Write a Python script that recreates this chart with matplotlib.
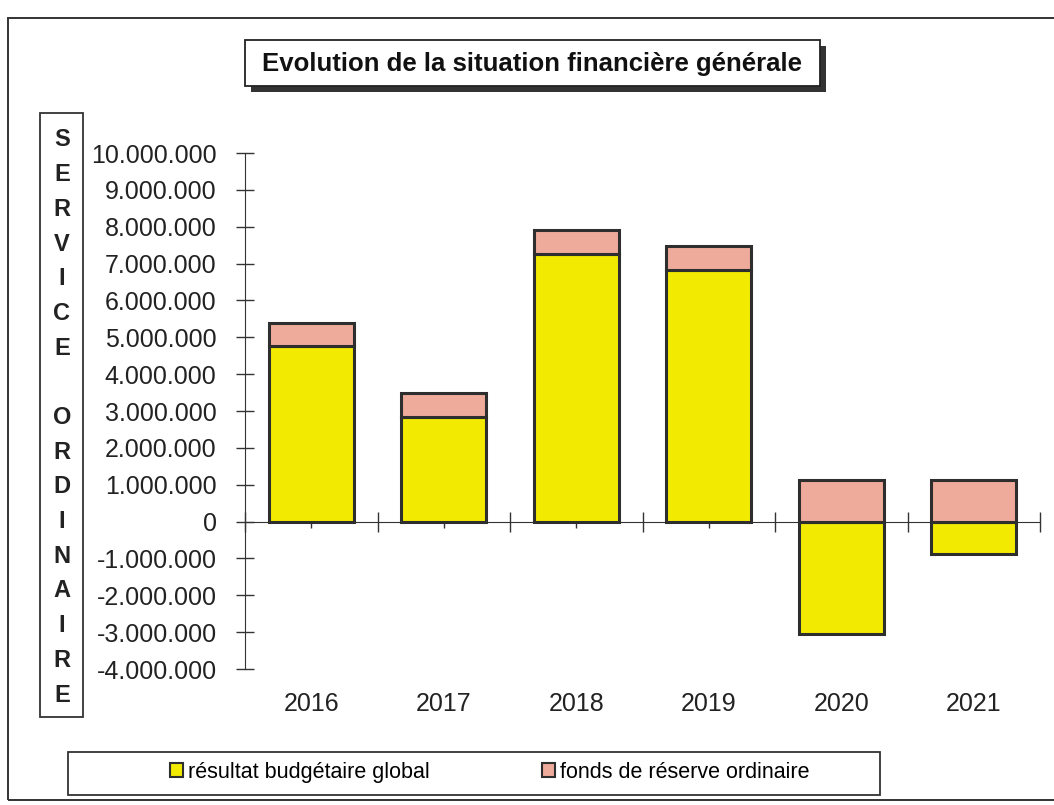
import numpy as np
import matplotlib
matplotlib.use('Agg')
from matplotlib import pyplot as plt
from matplotlib.patches import Rectangle, Patch
from matplotlib import font_manager

# data
years = ['2016', '2017', '2018', '2019', '2020', '2021']
resultat = [4760000, 2840000, 7260000, 6820000, -3040000, -870000]
reserve = [620000, 640000, 660000, 650000, 1140000, 1140000]
y_ticks = list(range(-4000000, 10000001, 1000000))
series_names = ['résultat budgétaire global', 'fonds de réserve ordinaire']
title = 'Evolution de la situation financière générale'
side_label = 'SERVICE ORDINAIRE'

yellow = '#f2ea00'
pink = '#eeaa9a'
edge = '#2e2e2e'

names = {f.name for f in font_manager.fontManager.ttflist}
narrow = 'Liberation Sans Narrow' if 'Liberation Sans Narrow' in names else 'Liberation Sans'
plt.rcParams['font.family'] = ['Liberation Sans', 'DejaVu Sans']

W, H = 1054, 805
fig = plt.figure(figsize=(W / 100, H / 100), dpi=100)
fig.patch.set_facecolor('white')


def fx(px):
    return px / W


def fy(py):
    return 1 - py / H


# outer frame
fig.add_artist(Rectangle((fx(8), fy(800)), fx(1060) - fx(8), fy(18) - fy(800),
                         transform=fig.transFigure, fill=False, lw=1.4, ec='#333333'))

# plot area
ax = fig.add_axes([fx(245), fy(669), fx(1040) - fx(245), fy(153) - fy(669)])
x = np.arange(len(years))
res = np.array(resultat)
pink_bottom = np.where(res > 0, res, 0)
ax.bar(x, res, width=0.64, color=yellow, edgecolor=edge, linewidth=2.2, zorder=3)
ax.bar(x, reserve, bottom=pink_bottom, width=0.64, color=pink, edgecolor=edge, linewidth=2.2, zorder=3)

ax.set_xlim(-0.5, len(years) - 0.5)
ax.set_ylim(-4000000, 10000000)
ax.set_yticks(y_ticks)
ax.set_yticklabels([f'{v:,}'.replace(',', '.') for v in y_ticks], fontsize=18, color='#222222')
ax.tick_params(axis='y', direction='inout', length=13, width=1, pad=14, color='#333333')

for s in ['top', 'right']:
    ax.spines[s].set_visible(False)
ax.spines['bottom'].set_position(('data', 0))
ax.spines['left'].set_color('#333333')
ax.spines['bottom'].set_color('#333333')
ax.set_xticks(np.arange(len(years) + 1) - 0.5)
ax.set_xticks(x, minor=True)
ax.tick_params(axis='x', which='major', direction='inout', length=14, width=1, labelbottom=False, color='#333333')
ax.tick_params(axis='x', which='minor', direction='out', length=4, width=1, labelbottom=False, color='#333333')
ax.set_facecolor('none')

for xi, yr in zip(x, years):
    ax.text(xi, -0.045, yr, transform=ax.get_xaxis_transform(), ha='center', va='top',
            fontsize=18, color='#222222')

# title box with shadow
fig.add_artist(Rectangle((fx(251), fy(92)), fx(826) - fx(251), fy(46) - fy(92),
                         transform=fig.transFigure, fc='#333333', ec='none'))
fig.add_artist(Rectangle((fx(245), fy(86)), fx(820) - fx(245), fy(40) - fy(86),
                         transform=fig.transFigure, fc='white', ec='#222222', lw=1.3))
fig.text(fx(532), fy(64), title, ha='center', va='center', fontsize=18.5,
         fontweight='bold', family=[narrow, 'DejaVu Sans'], color='#111111')

# vertical label box
fig.add_artist(Rectangle((fx(40), fy(717)), fx(83) - fx(40), fy(113) - fy(717),
                         transform=fig.transFigure, fc='white', ec='#333333', lw=1.3))
slots = len(side_label)
for i, ch in enumerate(side_label):
    if ch == ' ':
        continue
    py = 140 + i * (695 - 140) / (slots - 1)
    fig.text(fx(62), fy(py), ch, ha='center', va='center', fontsize=17,
             fontweight='bold', color='#222222')

# legend box
fig.add_artist(Rectangle((fx(68), fy(795)), fx(880) - fx(68), fy(752) - fy(795),
                         transform=fig.transFigure, fc='white', ec='#333333', lw=1.3))
handles = [Patch(facecolor=yellow, edgecolor=edge, linewidth=1.5),
           Patch(facecolor=pink, edgecolor=edge, linewidth=1.5)]
fig.legend(handles, series_names, loc='center', bbox_to_anchor=(fx(490), fy(772)),
           ncol=2, frameon=False, handlelength=0.6, handleheight=0.6, handletextpad=0.25,
           columnspacing=5.2, prop={'family': [narrow, 'DejaVu Sans'], 'size': 15.5})

fig.savefig('out.png', dpi=100)
